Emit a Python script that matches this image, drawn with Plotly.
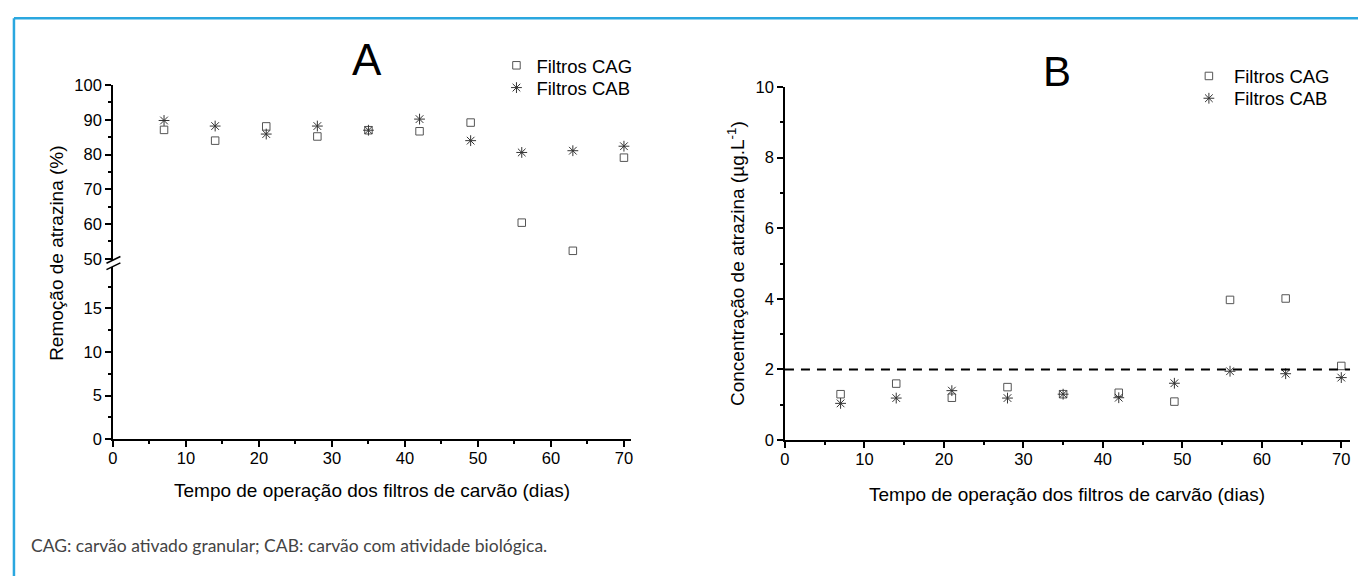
import plotly.graph_objects as go

# ---------------- data ----------------
days = [7, 14, 21, 28, 35, 42, 49, 56, 63, 70]
removal_cag = [87.1, 84.0, 88.1, 85.2, 87.0, 86.7, 89.2, 60.4, 52.3, 79.1]
removal_cab = [89.8, 88.2, 85.9, 88.2, 87.0, 90.2, 84.0, 80.6, 81.1, 82.4]
conc_cag = [1.30, 1.60, 1.20, 1.50, 1.30, 1.34, 1.09, 3.97, 4.01, 2.10]
conc_cab = [1.04, 1.19, 1.40, 1.19, 1.30, 1.20, 1.61, 1.95, 1.88, 1.77]
limit_value = 2.0
series_names = ["Filtros CAG", "Filtros CAB"]
panel_labels = ["A", "B"]
x_title = "Tempo de operação dos filtros de carvão (dias)"
y_title_a = "Remoção de atrazina (%)"
y_title_b = "Concentração de atrazina (µg.L<sup>-1</sup>)"
caption = "CAG: carvão ativado granular; CAB: carvão com atividade biológica."

# ---------------- layout helpers ----------------
W, H = 1358, 576
def px(x):
    return x / W
def py(y):
    return 1 - y / H

FONT = "Liberation Sans, Arial, sans-serif"
cag_marker = dict(symbol="square-open", size=7.5, color="#555555", line=dict(width=1, color="#555555"))
cab_marker = dict(symbol="asterisk-open", size=9, color="#333333", line=dict(width=1, color="#333333"))

fig = go.Figure()

# Panel A: same data on top and bottom sections of the broken axis
for ya, show in (("y2", True), ("y", False)):
    fig.add_trace(go.Scatter(x=days, y=removal_cag, mode="markers", name=series_names[0],
                             marker=cag_marker, xaxis="x", yaxis=ya, showlegend=show, legend="legend"))
    fig.add_trace(go.Scatter(x=days, y=removal_cab, mode="markers", name=series_names[1],
                             marker=cab_marker, xaxis="x", yaxis=ya, showlegend=show, legend="legend2"))

# Panel B
fig.add_trace(go.Scatter(x=days, y=conc_cag, mode="markers", name=series_names[0],
                         marker=cag_marker, xaxis="x2", yaxis="y3", legend="legend3"))
fig.add_trace(go.Scatter(x=days, y=conc_cab, mode="markers", name=series_names[1],
                         marker=cab_marker, xaxis="x2", yaxis="y3", legend="legend4"))

axis_common = dict(showgrid=False, zeroline=False, showline=True, linecolor="black", linewidth=1.5,
                   ticks="outside", ticklen=6, tickwidth=1.5, tickcolor="black",
                   tickfont=dict(family=FONT, size=16.5, color="black"))
minor_common = dict(ticks="outside", ticklen=3, tickwidth=1.5, tickcolor="black")
legend_font = dict(family=FONT, size=18.5, color="black")

def legend_at(x, y_top, itemwidth=30):
    return dict(x=px(x), y=py(y_top), xanchor="left", yanchor="top", bgcolor="rgba(0,0,0,0)",
                font=legend_font, borderwidth=0, itemwidth=itemwidth)

fig.update_layout(
    width=W, height=H,
    margin=dict(l=0, r=0, t=0, b=0),
    paper_bgcolor="white", plot_bgcolor="white",
    font=dict(family=FONT, color="black"),
    xaxis=dict(domain=[px(108.5), px(629.5)], range=[0, 71], anchor="y", dtick=10, tick0=0,
               ticklabelstandoff=-3,
               minor=dict(dtick=5, **minor_common), **axis_common),
    yaxis=dict(domain=[py(444), py(266)], range=[0, 19.8], anchor="x", dtick=5, tick0=0,
               minor=dict(dtick=2.5, **minor_common), **axis_common),
    yaxis2=dict(domain=[py(260), py(78.5)], range=[49.4, 100], anchor="x", dtick=10, tick0=50,
                minor=dict(dtick=5, **minor_common), **axis_common),
    xaxis2=dict(domain=[px(784), px(1352)], range=[0, 71.1], anchor="y3", dtick=10, tick0=0,
                ticklabelstandoff=-3,
                minor=dict(dtick=5, **minor_common), **axis_common),
    yaxis3=dict(domain=[py(445), py(80.5)], range=[0, 10], anchor="x2", dtick=2, tick0=0,
                minor=dict(dtick=1, **minor_common), **axis_common),
    legend=legend_at(494, 39),
    legend2=legend_at(494, 62),
    legend3=legend_at(1185, 50, 40),
    legend4=legend_at(1185, 73, 40),
)

shapes = [
    # outer light-blue frame (top and left)
    dict(type="line", xref="paper", yref="paper", x0=px(9), x1=1.01, y0=py(9.5), y1=py(9.5),
         line=dict(color="#2aa7df", width=2.5)),
    dict(type="line", xref="paper", yref="paper", x0=px(9), x1=px(9), y0=py(9.5), y1=-0.02,
         line=dict(color="#2aa7df", width=2.5)),
    # axis break marks
    dict(type="line", xref="paper", yref="paper", x0=px(102), x1=px(116), y0=py(262.5), y1=py(255.5),
         line=dict(color="black", width=1.5)),
    dict(type="line", xref="paper", yref="paper", x0=px(102), x1=px(116), y0=py(269), y1=py(262),
         line=dict(color="black", width=1.5)),
    # limit line in panel B
    dict(type="line", xref="x2 domain", yref="y3", x0=0, x1=1, y0=limit_value, y1=limit_value,
         line=dict(color="black", width=2, dash="9px,7px")),
]
fig.update_layout(shapes=shapes)

annotations = [
    dict(text=panel_labels[0], x=px(364), y=py(52), xref="paper", yref="paper", showarrow=False,
         xanchor="center", yanchor="middle", font=dict(family=FONT, size=44, color="black")),
    dict(text=panel_labels[1], x=px(1057), y=py(65), xref="paper", yref="paper", showarrow=False,
         xanchor="center", yanchor="middle", font=dict(family=FONT, size=42, color="black")),
    dict(text=y_title_a, x=px(51), y=py(252), xref="paper", yref="paper", showarrow=False,
         textangle=-90, xanchor="center", yanchor="middle", font=dict(family=FONT, size=19, color="black")),
    dict(text=y_title_b, x=px(735), y=py(263), xref="paper", yref="paper", showarrow=False,
         textangle=-90, xanchor="center", yanchor="middle", font=dict(family=FONT, size=19, color="black")),
    dict(text=x_title, x=px(369), y=py(497), xref="paper", yref="paper", showarrow=False,
         xanchor="center", yanchor="middle", font=dict(family=FONT, size=19, color="black")),
    dict(text=x_title, x=px(1068), y=py(501), xref="paper", yref="paper", showarrow=False,
         xanchor="center", yanchor="middle", font=dict(family=FONT, size=19, color="black")),
    dict(text=caption, x=px(24), y=py(554), xref="paper", yref="paper", showarrow=False,
         xanchor="left", yanchor="middle", font=dict(family="Lato, Open Sans, sans-serif", size=17.5, color="#444444")),
]
fig.update_layout(annotations=annotations)

fig.write_html("out.html")
